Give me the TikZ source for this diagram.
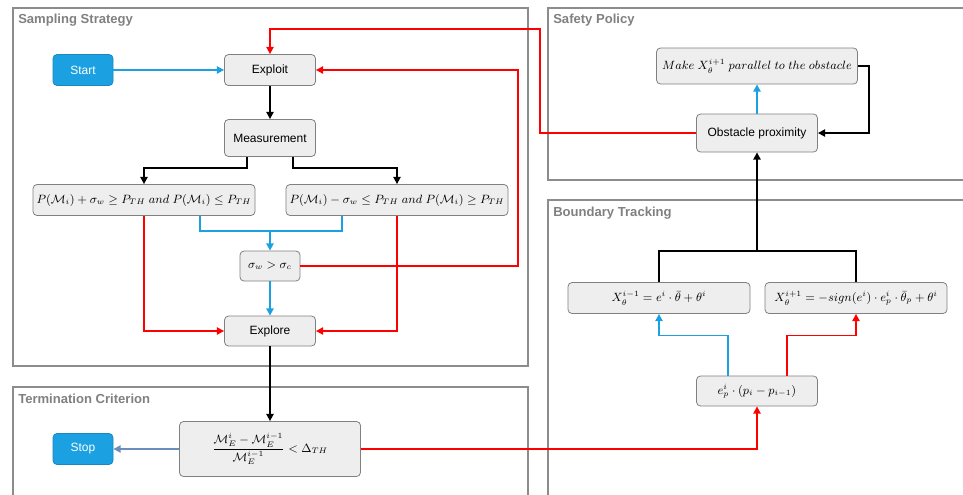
\documentclass[tikz,border=0pt]{standalone}
\usepackage{fontspec}
\setmainfont{Liberation Sans}
\usetikzlibrary{arrows.meta}
\definecolor{flowred}{HTML}{FF0000}
\definecolor{flowblue}{HTML}{1BA1E2}
\definecolor{stopblue}{HTML}{6C8EBF}
\definecolor{boxfill}{HTML}{EEEEEE}
\definecolor{boxline}{HTML}{808080}
\definecolor{panelline}{HTML}{8C8C8C}
\definecolor{titlegrey}{HTML}{808080}
\tikzset{
  proc/.style={draw=boxline,fill=boxfill,rounded corners=3pt,inner sep=2pt,line width=0.6pt,font=\fontsize{9}{10}\selectfont},
  term/.style={draw=flowblue!85!black,fill=flowblue,text=white,rounded corners=3pt,line width=0.6pt,
    minimum width=45pt,minimum height=23.25pt,font=\fontsize{9}{10}\selectfont},
  panel/.style={draw=panelline,line width=0.9pt},
  ptitle/.style={anchor=west,text=titlegrey,inner sep=0pt,font=\bfseries\fontsize{9.8}{11}\selectfont},
  tip/.style={-{Triangle[length=5.5pt,width=5.5pt]}},
  redarr/.style={draw=flowred,line width=1.25pt,tip},
  bluearr/.style={draw=flowblue,line width=1.25pt,tip},
  blackarr/.style={draw=black,line width=1.25pt,tip},
  stoparr/.style={draw=stopblue,line width=1.25pt,tip},
}
\begin{document}
\begin{tikzpicture}[x=0.75pt,y=-0.75pt]
\useasboundingbox (0,0) rectangle (963,494);
% panels
\draw[panel] (13,8) rectangle (528,366);
\draw[panel] (13,387) rectangle (528,510);
\draw[panel] (548,8) rectangle (980,180);
\draw[panel] (548,200) rectangle (980,510);
\node[ptitle] (tSamp) at (18,20) {Sampling Strategy};
\node[ptitle] (tTerm) at (18,399) {Termination Criterion};
\node[ptitle] (tSafe) at (553,20) {Safety Policy};
\node[ptitle] (tBound) at (553,213) {Boundary Tracking};
% sampling strategy
\node[term] (start) at (83,70) {Start};
\node[proc,minimum width=68.25pt,minimum height=23.25pt] (exploit) at (270,70) {Exploit};
\node[proc,minimum width=68.25pt,minimum height=27.75pt] (meas) at (270,138) {Measurement};
\node[proc,minimum width=166.5pt,minimum height=23.25pt] (condL) at (144,200)
  {$P(\mathcal{M}_i)+\sigma_w \geq P_{TH}\ and\ P(\mathcal{M}_i)\leq P_{TH}$};
\node[proc,minimum width=166.5pt,minimum height=23.25pt] (condR) at (397,200)
  {$P(\mathcal{M}_i)-\sigma_w \leq P_{TH}\ and\ P(\mathcal{M}_i)\geq P_{TH}$};
\node[proc,minimum width=45pt,minimum height=22.5pt] (sigma) at (270,266) {$\sigma_w>\sigma_c$};
\node[proc,minimum width=68.25pt,minimum height=22.5pt] (explore) at (270,331) {Explore};
% termination criterion
\node[proc,minimum width=135.75pt,minimum height=41.25pt] (crit) at (270,449)
  {$\displaystyle\frac{\mathcal{M}_E^i-\mathcal{M}_E^{i-1}}{\mathcal{M}_E^{i-1}}<\Delta_{TH}$};
\node[term] (stop) at (83,449) {Stop};
% safety policy
\node[proc,minimum width=150.75pt,minimum height=27pt] (make) at (757,66)
  {$Make\ X_\theta^{i+1}\ parallel\ to\ the\ obstacle$};
\node[proc,minimum width=90.75pt,minimum height=28.5pt] (obst) at (757,133) {Obstacle proximity};
% boundary tracking
\node[proc,minimum width=136.5pt,minimum height=23.25pt] (xL) at (659,298)
  {$X_\theta^{i-1}=e^i\cdot\bar\theta+\theta^i$};
\node[proc,minimum width=136.5pt,minimum height=23.25pt] (xR) at (856,298)
  {$X_\theta^{i+1}=-sign(e^i)\cdot e_p^i\cdot\bar\theta_p+\theta^i$};
\node[proc,minimum width=90.75pt,minimum height=22.5pt] (ep) at (757,391) {$e_p^i\cdot(p_i-p_{i-1})$};
% connectors
\coordinate (join) at (270,231);
\coordinate (loopR) at (518,0);
\coordinate (loopT) at (540,29);
\coordinate (mergeBT) at (757,251);
\draw[bluearr] (start) -- (exploit);
\draw[blackarr] (exploit) -- (meas);
\draw[blackarr] ([xshift=-17.25pt]meas.south) -- ++(0,11) -| (condL.north);
\draw[blackarr] ([xshift=17.25pt]meas.south) -- ++(0,11) -| (condR.north);
\draw[draw=flowblue,line width=1.25pt] ([xshift=42pt]condL.south) |- (join) -| ([xshift=-41.25pt]condR.south);
\draw[bluearr] (join) -- (sigma);
\draw[bluearr] (sigma) -- (explore);
\draw[redarr] (condL.south) |- (explore.west);
\draw[redarr] (condR.south) |- (explore.east);
\draw[redarr] (sigma.east) -- (sigma.east -| loopR) |- (exploit.east);
\draw[blackarr] (explore) -- (crit);
\draw[stoparr] (crit.west) -- (stop.east);
\draw[redarr] (crit.east) -| (ep.south);
\draw[bluearr] ([xshift=-21.75pt]ep.north) -- ++(0,-40) -| (xL.south);
\draw[redarr] ([xshift=22.5pt]ep.north) -- ++(0,-40) -| (xR.south);
\draw[draw=black,line width=1.25pt] (xL.north) |- (mergeBT) -| (xR.north);
\draw[blackarr] (mergeBT) -- (obst);
\draw[bluearr] (obst) -- (make);
\draw[blackarr] (make.east) -- ++(11,0) |- (obst.east);
\draw[redarr] (obst.west) -| (loopT) -| (exploit.north);
\end{tikzpicture}
\end{document}
